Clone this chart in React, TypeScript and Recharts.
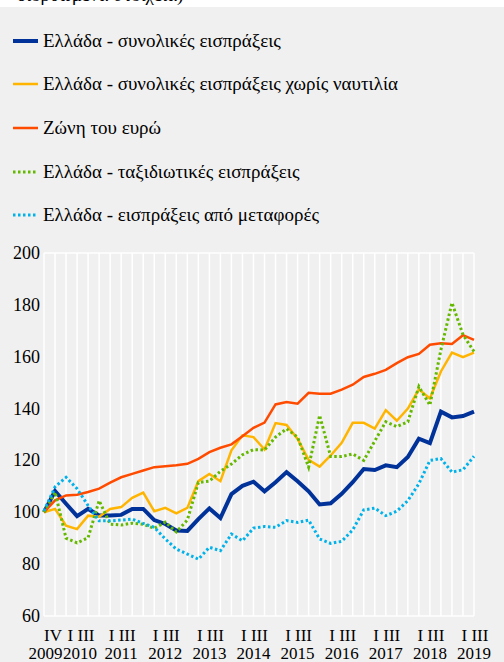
import React from "react"
import { LineChart, Line, XAxis, YAxis, CartesianGrid } from "recharts"

// Quarterly indices, 2009 Q4 = 100
const years = ["2009", "2010", "2011", "2012", "2013", "2014", "2015", "2016", "2017", "2018", "2019"]
const quarterNames = ["I", "II", "III", "IV"]

const totalReceipts = [
  100, 108.2, 103.3, 98.5, 101.3, 98.8, 98.8, 99, 101.3, 101.3,
  97, 95.5, 93, 92.8, 97.4, 101.5, 97.8, 107, 110.2, 111.8,
  108.1, 111.6, 115.5, 112, 108.1, 103, 103.5, 107.1, 111.6, 116.7,
  116.3, 118.1, 117.4, 121.3, 128.4, 126.7, 138.8, 136.6, 137.1, 138.8,
]
const receiptsExShipping = [
  100, 101.3, 94.8, 93.5, 98.7, 98.3, 101.3, 102, 105.6, 107.6,
  100.4, 101.7, 99.6, 101.7, 112, 114.8, 112, 123.9, 129.7, 129,
  124.2, 134.4, 133.7, 128.3, 120.2, 117.6, 121.9, 126.8, 134.5, 134.5,
  132.3, 139.4, 135.3, 140, 147.4, 143.9, 154.3, 161.6, 159.8, 161.6,
]
const euroArea = [
  100, 104.6, 106.5, 106.8, 107.8, 109.1, 111.4, 113.5, 114.8, 116.1,
  117.4, 117.8, 118.1, 118.7, 120.6, 123.2, 124.9, 126.2, 129.3, 132.6,
  134.6, 141.6, 142.5, 141.9, 146.1, 145.7, 145.7, 147.3, 149.2, 152.2,
  153.4, 154.9, 157.5, 159.8, 161.1, 164.6, 165.2, 164.9, 168.3, 166.5,
]
const travelReceipts = [
  100, 107.8, 90, 88.2, 90.2, 104.5, 95.4, 95.1, 95.8, 95.4,
  93.8, 96.2, 92.4, 97, 111.5, 112, 115.8, 118.6, 122.2, 124.2,
  124, 129, 132.2, 129, 117.4, 137.4, 121.5, 121.5, 122.5, 120,
  127.5, 134.9, 133, 134.9, 148.5, 141.3, 162.7, 180.8, 168.5, 162,
]
const transportReceipts = [
  100.5, 109.8, 113.5, 109.1, 102.6, 96.7, 96.7, 97, 97.4, 95.7,
  94.2, 89.7, 85.8, 83.9, 81.9, 86.5, 85.2, 91.6, 89, 93.9,
  94.5, 94.2, 96.8, 96.1, 97, 89.7, 88, 88.8, 93.2, 100.9,
  101.6, 98.7, 100.4, 104.5, 111, 120, 120.7, 115.5, 116.4, 121.6,
]

const yTicks = [60, 80, 100, 120, 140, 160, 180, 200]

// period list: 2009 Q4 ... 2019 Q3
const periods: { year: string; q: string }[] = []
years.forEach((y) => {
  quarterNames.forEach((q) => {
    if (y === "2009" && q !== "IV") return
    if (y === "2019" && q === "IV") return
    periods.push({ year: y, q })
  })
})

// axis labels: one per year, under the third quarter (2009 has only IV)
const tickQuarterText: Record<string, string> = { "2009": "IV" }
years.slice(1).forEach((y) => (tickQuarterText[y] = "I III"))

const series = [
  { key: "total", name: "Ελλάδα - συνολικές εισπράξεις", values: totalReceipts, color: "#003299", width: 4, dash: undefined },
  { key: "exShip", name: "Ελλάδα - συνολικές εισπράξεις χωρίς ναυτιλία", values: receiptsExShipping, color: "#ffb400", width: 2.5, dash: undefined },
  { key: "euro", name: "Ζώνη του ευρώ", values: euroArea, color: "#ff4b00", width: 2.5, dash: undefined },
  { key: "travel", name: "Ελλάδα - ταξιδιωτικές εισπράξεις", values: travelReceipts, color: "#65b800", width: 3, dash: "2.5 2.5" },
  { key: "transport", name: "Ελλάδα - εισπράξεις από μεταφορές", values: transportReceipts, color: "#00b1ea", width: 3, dash: "2.5 2.5" },
]

const data = periods.map((p, i) => {
  const row: Record<string, number | string> = { idx: i, year: p.year, q: p.q }
  series.forEach((s) => (row[s.key] = s.values[i]))
  return row
})

const tickIdx = data
  .filter((d) => (d.year === "2009" && d.q === "IV") || d.q === "III")
  .map((d) => d.idx as number)

const FONT = '"Liberation Serif"'
const textStyle = { fontFamily: FONT, fontSize: 18 }
const xTextStyle = { fontFamily: FONT, fontSize: 17 }

// small nudges where the 2009 / 2010 labels crowd each other
const nudge: Record<string, [number, number]> = { "2009": [9, 1.5], "2010": [4, 3] }

function YearTick(props: any) {
  const { x, y, payload } = props
  const d = data[payload.value]
  if (!d) return null
  const yr = d.year as string
  const [dq, dy] = nudge[yr] || [1, 0]
  return (
    <g fill="#000">
      <text x={x + dq} y={y + 23} textAnchor="middle" style={xTextStyle}>{tickQuarterText[yr]}</text>
      <text x={x + dy} y={y + 41} textAnchor="middle" style={xTextStyle}>{yr}</text>
    </g>
  )
}

function ValueTick(props: any) {
  const { x, y, payload, textAnchor } = props
  return (
    <text x={x} y={y} dy={6} textAnchor={textAnchor} fill="#000" style={textStyle}>
      {payload.value}
    </text>
  )
}

function LegendSwatch({ color, width, dash }: { color: string; width: number; dash?: string }) {
  return (
    <svg width={26} height={8} style={{ display: "block" }}>
      <line x1={0} y1={4} x2={25} y2={4} stroke={color} strokeWidth={width} strokeDasharray={dash} />
    </svg>
  )
}

export default function App() {
  const allTicks = data.map((d) => d.idx as number)
  return (
    <div style={{ position: "relative", width: 504, height: 662, background: "#f0f0f0", overflow: "hidden" }}>
      <style>{`body{margin:0}`}</style>
      <div style={{ position: "absolute", left: 0, top: 0, width: 504, height: 7, background: "#fff", overflow: "hidden" }}>
        <span style={{ position: "absolute", left: 17, top: -16, fontFamily: FONT, fontSize: 19, whiteSpace: "nowrap", color: "#000" }}>
          διορθωμένα στοιχεία)
        </span>
      </div>

      <div style={{ position: "absolute", left: 13, top: 19 }}>
        {series.map((s) => (
          <div key={s.key} style={{ display: "flex", alignItems: "center", height: 43.6 }}>
            <LegendSwatch color={s.color} width={s.width} dash={s.dash} />
            <span style={{ marginLeft: 4, fontFamily: FONT, fontSize: 19, color: "#000", whiteSpace: "nowrap" }}>{s.name}</span>
          </div>
        ))}
      </div>

      <div style={{ position: "absolute", left: 0, top: 240 }}>
        <LineChart width={504} height={422} data={data} margin={{ top: 13, right: 0, bottom: 0, left: 0 }}>
          <CartesianGrid stroke="#ffffff" strokeWidth={1.5} />
          <XAxis
            dataKey="idx"
            type="number"
            domain={[0, 39]}
            ticks={allTicks}
            interval={0}
            height={46}
            axisLine={false}
            tickLine={false}
            tickSize={0}
            tick={(p: any) => (tickIdx.includes(p.payload.value) ? <YearTick {...p} /> : <g />)}
          />
          <YAxis
            yAxisId="left"
            orientation="left"
            width={44}
            domain={[60, 200]}
            ticks={yTicks}
            axisLine={false}
            tickLine={false}
            tickSize={2}
            tickMargin={2}
            tick={<ValueTick />}
          />
          <YAxis
            yAxisId="right"
            orientation="right"
            width={30}
            domain={[60, 200]}
            ticks={yTicks}
            axisLine={false}
            tickLine={false}
            tickSize={2}
            tickMargin={3}
            tick={<ValueTick />}
          />
          {series.map((s) => (
            <Line
              key={s.key}
              yAxisId="left"
              type="linear"
              dataKey={s.key}
              stroke={s.color}
              strokeWidth={s.width}
              strokeDasharray={s.dash}
              dot={false}
              activeDot={false}
              isAnimationActive={false}
            />
          ))}
        </LineChart>
      </div>
    </div>
  )
}
